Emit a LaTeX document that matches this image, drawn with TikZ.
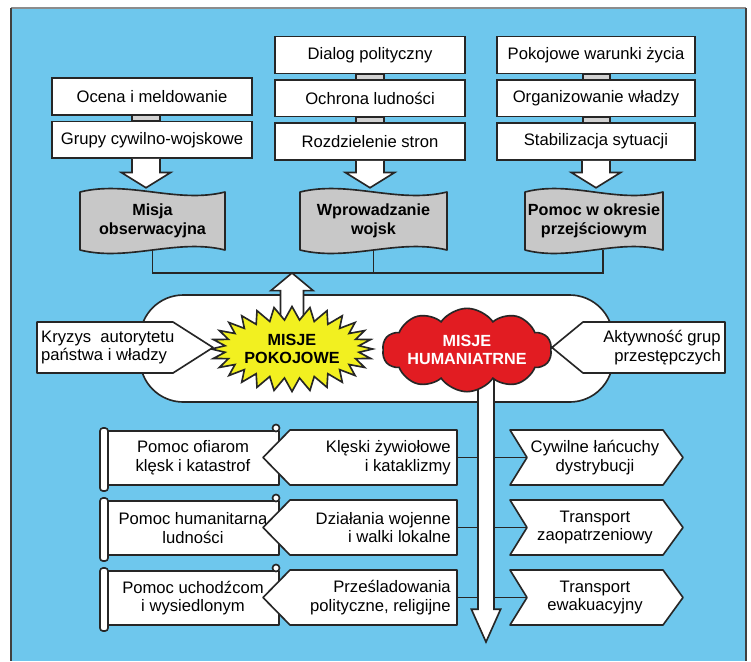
\documentclass[tikz,border=0pt]{standalone}
\usepackage{fontspec}
\setmainfont{Liberation Sans}
\usepackage{tikz}
\usetikzlibrary{shapes.symbols, positioning, calc}

\definecolor{tlo}{RGB}{110,199,237}
\definecolor{szary}{RGB}{200,200,200}
\definecolor{zolty}{RGB}{242,240,32}
\definecolor{czerwony}{RGB}{226,28,34}
\newcommand{\tekst}{\fontsize{14.2}{16}\selectfont}
\newcommand{\tekstb}{\fontsize{13.8}{16}\selectfont\bfseries}

% strzalka blokowa w dol: od (#1) do grotu (#2)
\newcommand{\blokstrzalka}[2]{%
  \path[bigarrow] let \p1=(#1), \p2=(#2) in
    (\x1-12pt,\y1) -- (\x1-12pt,\y2+13pt) -- (\x1-21pt,\y2+13pt) -- (\x1,\y2)
    -- (\x1+21pt,\y2+13pt) -- (\x1+12pt,\y2+13pt) -- (\x1+12pt,\y1);}

\begin{document}
\begin{tikzpicture}[x=0.03cm, y=-0.03cm, node distance=0.15cm,
    every node/.style={font=\tekst},
    box/.style={rectangle, draw=black!85, line width=1.4pt, fill=white, minimum height=1.1cm, inner sep=0pt},
    link/.style={draw=black!85, line width=1.1pt, fill=gray!35},
    obrys/.style={draw=black!85, line width=1.4pt, fill=white, line join=round},
    wave/.style={obrys, fill=szary},
    napis/.style={align=center, inner sep=0pt},
    gruby/.style={napis, font=\tekstb},
    wskaz/.style={napis, align=right, anchor=east, inner xsep=0.18cm},
    polacz/.style={draw=black!85, line width=1.4pt},
    bigarrow/.style={obrys, line join=miter},
    gwiazda/.style={starburst, draw=black!85, line width=1.4pt, fill=zolty, starburst points=28, starburst point height=0.4cm, random starburst=0, minimum width=4.8cm, minimum height=2.55cm, gruby},
    chmura/.style={cloud, draw=black!85, line width=1.4pt, fill=czerwony, cloud puffs=10, cloud puff arc=110, aspect=2, minimum width=5.07cm, minimum height=2.5cm, gruby, text=white}]

  % tlo
  \useasboundingbox (0,0) rectangle (751,661);
  \fill[white] (0,0) rectangle (751,661);
  \fill[tlo] (11,8) rectangle (746,661);
  \draw[black!45, line width=1.2pt] (11,8) -- (746,8);
  \draw[black!75, line width=1pt] (11,8) -- (11,661) (746,8) -- (746,661);

  % gorne bloki
  \node[box, minimum width=6cm] (ocena) at (152,96.5) {Ocena i meldowanie};
  \node[box, minimum width=6cm, below=of ocena] (grupy) {Grupy cywilno-wojskowe};
  \node[box, minimum width=5.7cm] (dialog) at (370,55) {Dialog polityczny};
  \node[box, minimum width=5.7cm, below=of dialog] (ochrona) {Ochrona ludności};
  \node[box, minimum width=5.7cm, below=of ochrona] (rozdz) {Rozdzielenie stron};
  \node[box, minimum width=5.94cm] (warunki) at (596,55) {Pokojowe warunki życia};
  \node[box, minimum width=5.94cm, below=of warunki] (wladza) {Organizowanie władzy};
  \node[box, minimum width=5.94cm, below=of wladza] (stabil) {Stabilizacja sytuacji};

  \path[link] ($(ocena.south)+(-20,0)$) rectangle ($(grupy.north)+(8,0)$);
  \path[link] ($(dialog.south)+(-14,0)$) rectangle ($(ochrona.north)+(14,0)$);
  \path[link] ($(ochrona.south)+(-14,0)$) rectangle ($(rozdz.north)+(14,0)$);
  \path[link] ($(warunki.south)+(-13,0)$) rectangle ($(wladza.north)+(14,0)$);
  \path[link] ($(wladza.south)+(-13,0)$) rectangle ($(stabil.north)+(14,0)$);

  % misje
  \path[wave] (80,192) .. controls +(48,-12) and +(-48,12) .. (225,192) -- (225,250) .. controls +(-48,-12) and +(48,12) .. (80,250) -- cycle;
  \node[gruby, minimum width=4.35cm, minimum height=1.74cm] (misja) at (152.5,221) {Misja\\obserwacyjna};
  \path[wave] (300,192) .. controls +(49,-12) and +(-49,12) .. (447,192) -- (447,250) .. controls +(-49,-12) and +(49,12) .. (300,250) -- cycle;
  \node[gruby, minimum width=4.41cm, minimum height=1.74cm] (wprow) at (373.5,221) {Wprowadzanie\\wojsk};
  \path[wave] (525,192) .. controls +(46,-12) and +(-46,12) .. (663,192) -- (663,250) .. controls +(-46,-12) and +(46,12) .. (525,250) -- cycle;
  \node[gruby, minimum width=4.14cm, minimum height=1.74cm] (pomoc) at (594,221) {Pomoc w okresie\\przejściowym};

  \blokstrzalka{$(grupy.south)+(-6,0)$}{$(misja.north)+(-6,-4)$}
  \blokstrzalka{rozdz.south}{$(wprow.north)+(-3.5,-4)$}
  \blokstrzalka{stabil.south}{$(pomoc.north)+(2,-4)$}

  \coordinate (bus) at (292,273);
  \draw[polacz] (misja.south) |- (bus) -| ($(pomoc.south)+(9,0)$);
  \draw[polacz] (wprow.south) -- (wprow.south |- bus);

  % srodek
  \node[rectangle, rounded corners=1.3cm, obrys, minimum width=14.19cm, minimum height=3.21cm] (rdzen) at (376.5,348.5) {};

  % dolne wiersze
  \draw[obrys] (107,431) rectangle (279,485);
  \draw[obrys, rounded corners=2.5pt] (100,428) rectangle (108,491);
  \draw[obrys] (276,428) circle (3pt);
  \node[napis] (ofiary) at (193,458) {Pomoc ofiarom\\klęsk i katastrof};
  \path[obrys] (457,430) -- (290,430) -- (263,457.5) -- (290,485) -- (457,485) -- cycle;
  \node[wskaz] (kleski) at (457,457.5) {Klęski żywiołowe\\i kataklizmy};
  \path[obrys] (510,430) -- (663,430) -- (683,457.5) -- (663,485) -- (510,485) -- (527,457.5) -- cycle;
  \node[napis, minimum width=4.08cm] (cywilne) at (595,457.5) {Cywilne łańcuchy\\dystrybucji};
  \draw[polacz] (kleski.east) -- (cywilne.west);

  \draw[obrys] (107,501) rectangle (279,555);
  \draw[obrys, rounded corners=2.5pt] (100,498) rectangle (108,561);
  \draw[obrys] (276,498) circle (3pt);
  \node[napis] (ludnosc) at (193,528) {Pomoc humanitarna\\ludności};
  \path[obrys] (457,500) -- (290,500) -- (263,527.5) -- (290,555) -- (457,555) -- cycle;
  \node[wskaz] (walki) at (457,527.5) {Działania wojenne\\i walki lokalne};
  \path[obrys] (510,500) -- (663,500) -- (683,527.5) -- (663,555) -- (510,555) -- (527,527.5) -- cycle;
  \node[napis, minimum width=4.08cm] (zaopatrz) at (595,527.5) {Transport\\zaopatrzeniowy};
  \draw[polacz] (walki.east) -- (zaopatrz.west);

  \draw[obrys] (107,571) rectangle (279,625);
  \draw[obrys, rounded corners=2.5pt] (100,568) rectangle (108,631);
  \draw[obrys] (276,568) circle (3pt);
  \node[napis] (uchodzcy) at (193,598) {Pomoc uchodźcom\\i wysiedlonym};
  \path[obrys] (457,570) -- (290,570) -- (263,597.5) -- (290,625) -- (457,625) -- cycle;
  \node[wskaz] (przesl) at (457,597.5) {Prześladowania\\polityczne, religijne};
  \path[obrys] (510,570) -- (663,570) -- (683,597.5) -- (663,625) -- (510,625) -- (527,597.5) -- cycle;
  \node[napis, minimum width=4.08cm] (ewaku) at (595,597.5) {Transport\\ewakuacyjny};
  \draw[polacz] (przesl.east) -- (ewaku.west);

  % strzalki misji
  \coordinate (srodekH) at (467,350);
  \coordinate (grot) at (486,642);
  \path[bigarrow] let \p1=($(srodekH)+(19,0)$), \p2=(grot) in
    (\x1-6.8pt,\y1) -- (\x1-6.8pt,\y2+28pt) -- (\x1-12.5pt,\y2+28pt) -- (\x2,\y2)
    -- (\x1+12.5pt,\y2+28pt) -- (\x1+6.8pt,\y2+28pt) -- (\x1+6.8pt,\y1);
  \coordinate (srodekP) at (292,349);
  \path[bigarrow] let \p1=(srodekP), \p2=(bus) in
    (\x2-9.8pt,\y1) -- (\x2-9.8pt,\y2-15pt) -- (\x2-18pt,\y2-15pt) -- (\x2,\y2)
    -- (\x2+18pt,\y2-15pt) -- (\x2+9.8pt,\y2-15pt) -- (\x2+9.8pt,\y1);

  \node[gwiazda] (pokoj) at (srodekP) {MISJE\\POKOJOWE};
  \node[chmura] (human) at (srodekH) {\makebox[0pt]{MISJE}\\\makebox[0pt]{HUMANIATRNE}};

  \path[obrys] (37,322) -- (173,322) -- (213,347.5) -- (173,373) -- (37,373) -- cycle;
  \node[napis, align=left, anchor=west] (kryzys) at (41,347.5) {Kryzys\ \ autorytetu\\państwa i władzy};
  \path[obrys] (725,322) -- (583,322) -- (552,347.5) -- (583,373) -- (725,373) -- cycle;
  \node[napis, align=right, anchor=east] (aktyw) at (721,347.5) {Aktywność grup\\przestępczych};
\end{tikzpicture}
\end{document}
